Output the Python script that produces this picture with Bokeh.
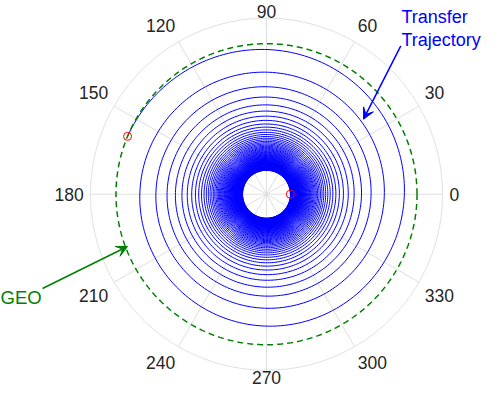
import numpy as np
from bokeh.plotting import figure
from bokeh.models import Range1d, Arrow, VeeHead
from bokeh.core.properties import value
from bokeh.embed import file_html
from bokeh.resources import INLINE

# ---- data ----
r_leo_km = 6678.0          # start orbit radius
r_geo_km = 42164.0         # GEO radius
full_revolutions = 88      # complete revolutions of the spiral
final_angle_deg = 157.4    # angle where the spiral reaches GEO
r_axis_max_km = 49300.0    # outer radial limit of the polar axes
theta_ticks_deg = [0, 30, 60, 90, 120, 150, 180, 210, 240, 270, 300, 330]
theta_tick_labels = ["0", "30", "60", "90", "120", "150", "180", "210", "240", "270", "300", "330"]
annot_traj = ["Transfer", "Trajectory"]
annot_geo = "GEO"

# ---- geometry ----
W, H = 482, 389
R_PX = 176.0
cx, cy = 266.0, 193.7             # polar centre in figure pixels (from left, from top)
u = r_axis_max_km / R_PX          # km per pixel

p = figure(width=W, height=H, output_backend="svg", toolbar_location=None,
           x_range=Range1d(-cx * u, (W - cx) * u),
           y_range=Range1d(-(H - cy) * u, cy * u),
           min_border=0, outline_line_color=None)
p.axis.visible = False
p.grid.visible = False
p.background_fill_color = "white"
p.border_fill_color = "white"

grid_col = "#dfdfdf"
# spokes
th = np.deg2rad(theta_ticks_deg)
p.segment(x0=np.zeros(len(th)), y0=np.zeros(len(th)),
          x1=r_axis_max_km * np.cos(th), y1=r_axis_max_km * np.sin(th),
          line_color=grid_col, line_width=1)
# outer circle
tc = np.linspace(0, 2 * np.pi, 721)
p.line(r_axis_max_km * np.cos(tc), r_axis_max_km * np.sin(tc), line_color=grid_col, line_width=1)

# angle labels
lx, ly = [], []
for ang, lab in zip(theta_ticks_deg, theta_tick_labels):
    a = np.deg2rad(ang)
    c, s = np.cos(a), np.sin(a)
    sc = 0 if abs(c) < 1e-6 else np.sign(c)
    ss = 0 if abs(s) < 1e-6 else np.sign(s)
    hw = len(lab) * 9.6 / 2
    x = 183 * c + hw * sc
    y = 183 * s + 10 * ss
    y = min(y, cy - 10.5)
    y = max(y, -(H - cy) + 12)
    lx.append(x * u)
    ly.append(y * u)
p.text(x=lx, y=ly, text=theta_tick_labels, text_align="center", text_baseline="middle",
       text_font=value("Liberation Sans"), text_font_size="17.5px", text_color="#262626")

# spiral transfer trajectory (constant tangential low-thrust spiral: 1/r^2 linear in angle)
theta_end = 2 * np.pi * full_revolutions + np.deg2rad(final_angle_deg)
theta = np.linspace(0, theta_end, int(theta_end / (2 * np.pi) * 200) + 1)
k = (1 / r_leo_km**2 - 1 / r_geo_km**2) / theta_end
r = 1 / np.sqrt(1 / r_leo_km**2 - k * theta)
p.line(r * np.cos(theta), r * np.sin(theta), line_color="#0000ff", line_width=1)

# GEO circle
p.line(r_geo_km * np.cos(tc), r_geo_km * np.sin(tc), line_color="#008000",
       line_width=1.5, line_dash="6 4")

# start / end markers
p.scatter(x=[r_leo_km, r_geo_km * np.cos(np.deg2rad(final_angle_deg))],
          y=[0, r_geo_km * np.sin(np.deg2rad(final_angle_deg))],
          marker="circle", size=8, fill_color=None, line_color="#ff0000", line_width=1)

# annotations
tx = (401 - cx) * u
p.text(x=[tx, tx], y=[(cy - 16.3) * u, (cy - 39.7) * u], text=annot_traj,
       text_align="left", text_baseline="alphabetic",
       text_font=value("Liberation Sans"), text_font_size="18px", text_color="#0000ff")
p.add_layout(Arrow(x_start=134.3 * u, y_start=148.4 * u, x_end=97 * u, y_end=75 * u,
                   line_color="#0000ff", line_width=1.5,
                   end=VeeHead(size=11, line_color="#0000ff", fill_color="#0000ff", line_width=1)))

p.text(x=[(0 - cx) * u], y=[-103.3 * u], text=[annot_geo],
       text_align="left", text_baseline="alphabetic",
       text_font=value("Liberation Sans"), text_font_size="18.5px", text_color="#008000")
p.add_layout(Arrow(x_start=-224 * u, y_start=-94.3 * u, x_end=-139 * u, y_end=-52.3 * u,
                   line_color="#008000", line_width=1.5,
                   end=VeeHead(size=11, line_color="#008000", fill_color="#008000", line_width=1)))

open("out.html", "w").write(file_html(p, INLINE))
